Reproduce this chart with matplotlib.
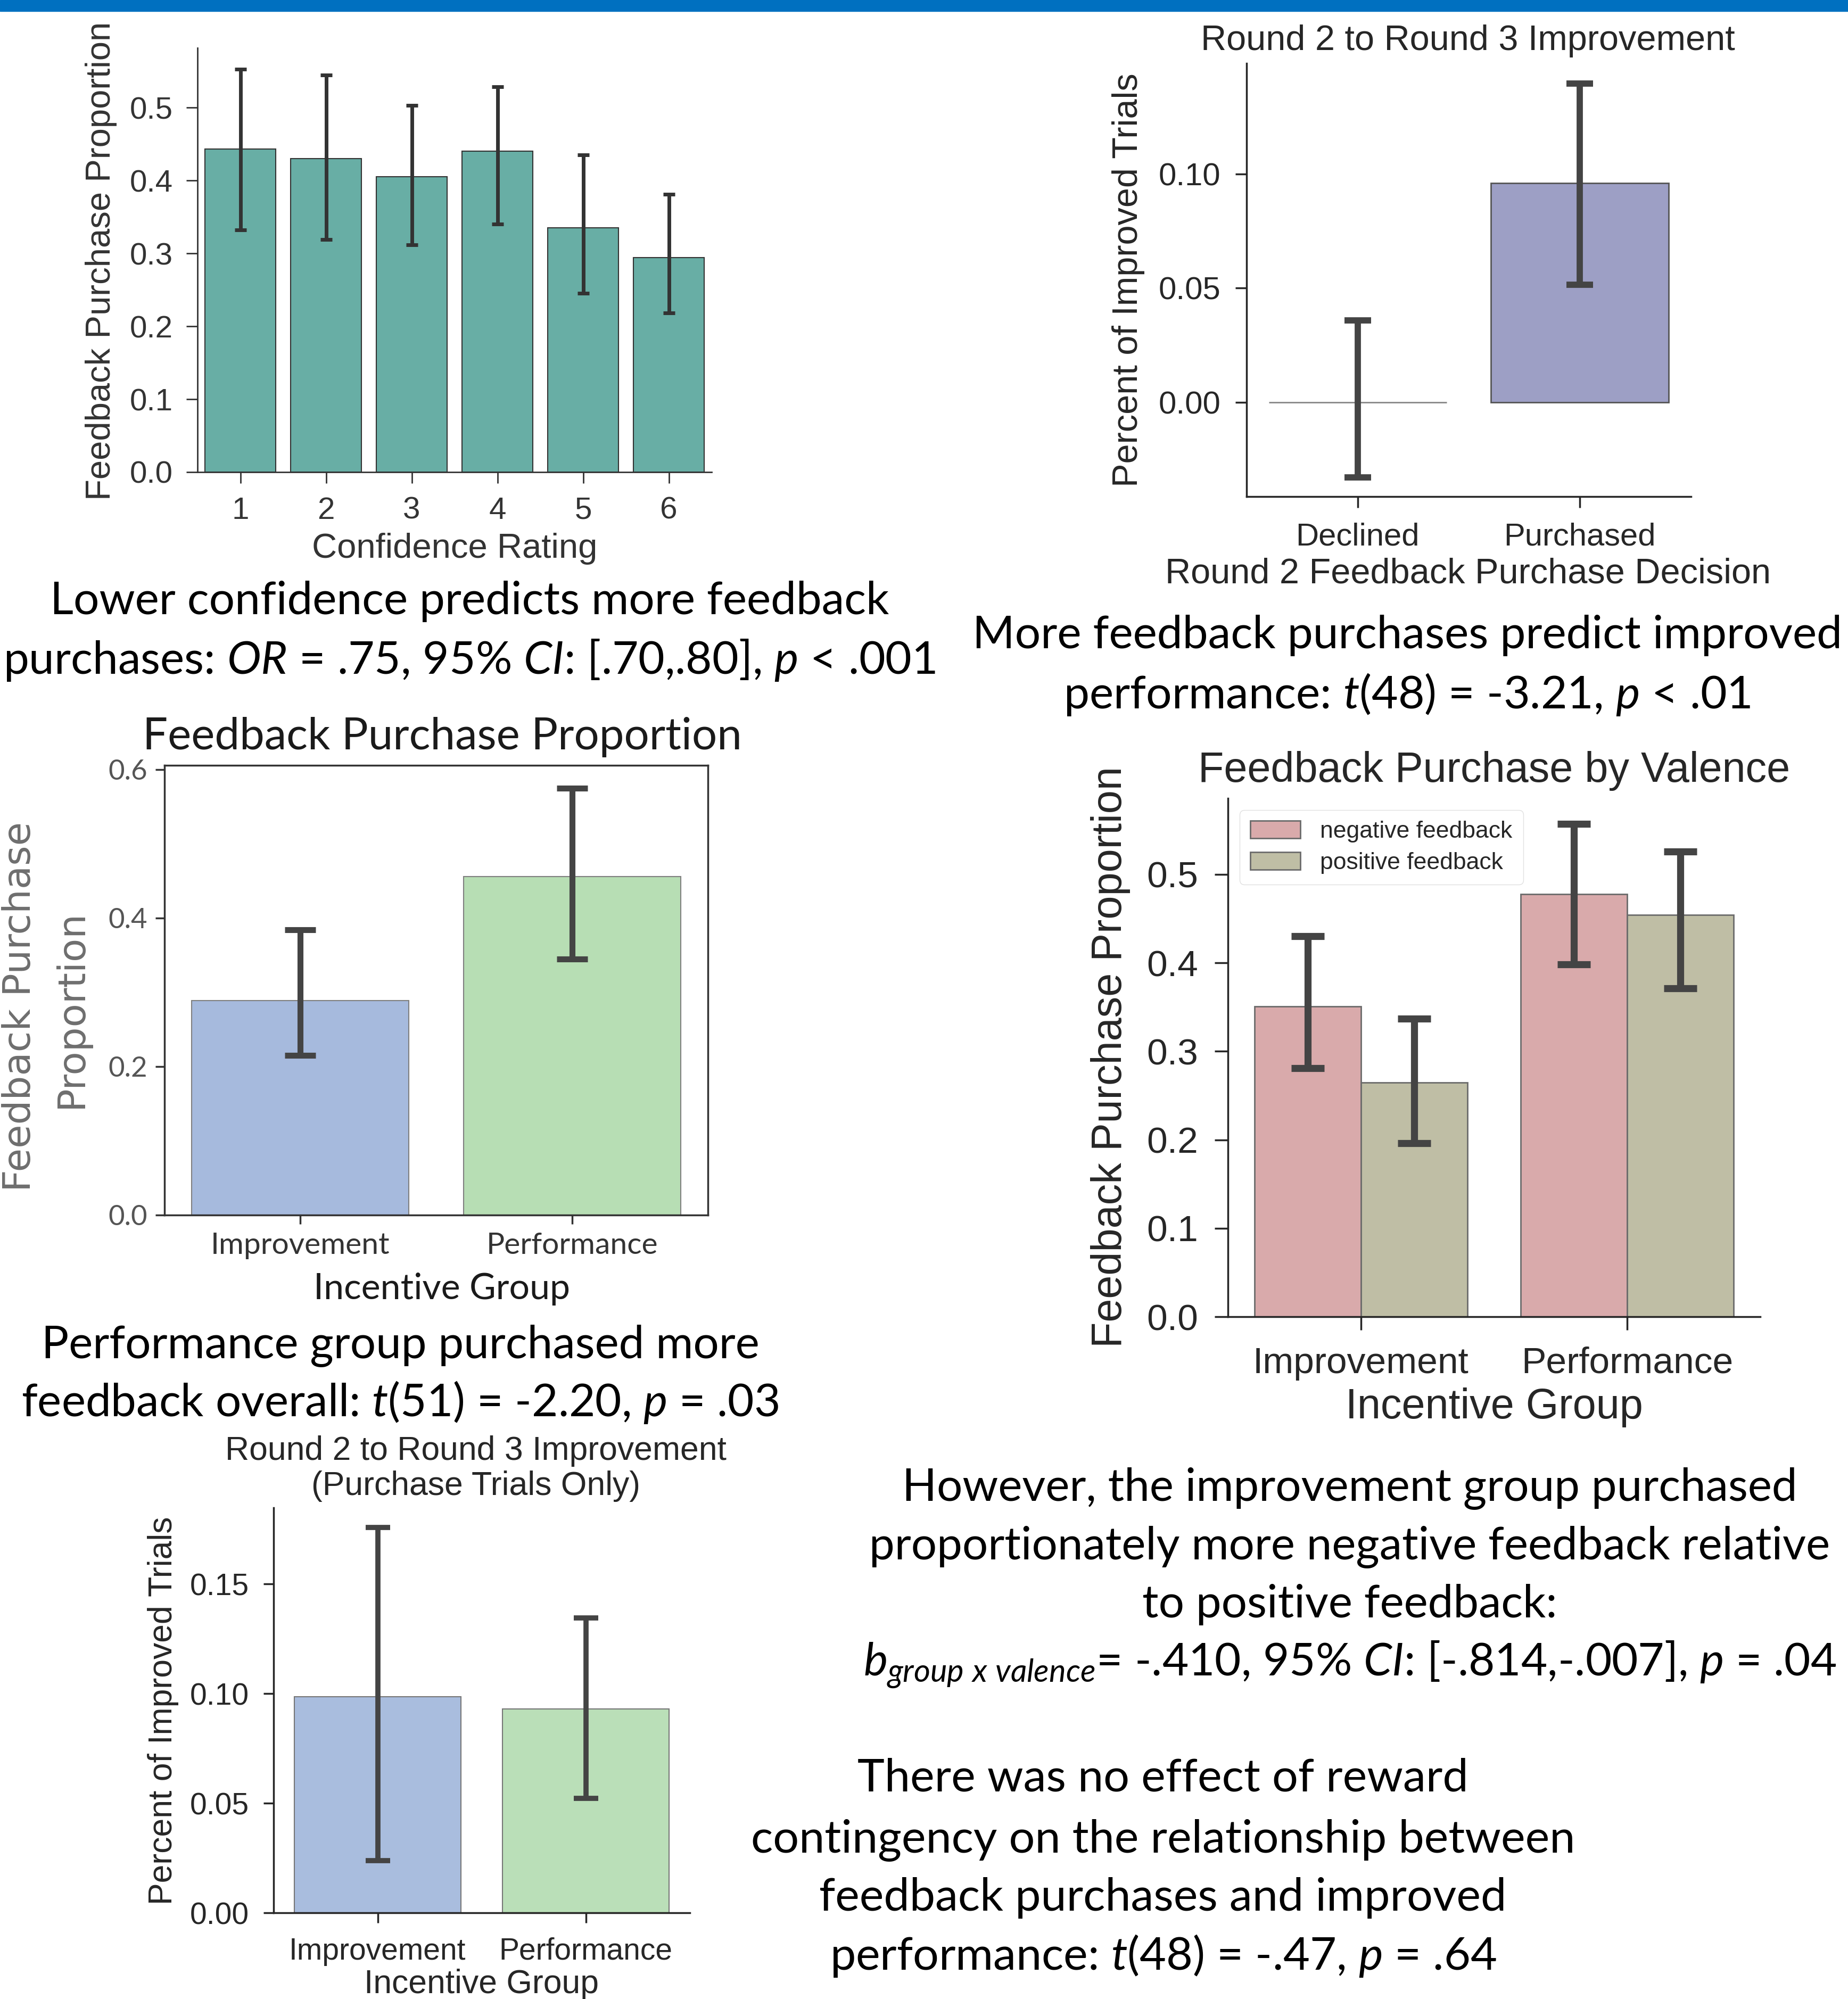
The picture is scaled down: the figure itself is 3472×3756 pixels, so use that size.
import numpy as np
import matplotlib
matplotlib.use("Agg")
import matplotlib.pyplot as plt
import matplotlib.transforms as mtransforms
from matplotlib.ticker import FormatStrFormatter

W, H = 3472, 3756
DPI = 100

ARIAL = ['Liberation Sans', 'DejaVu Sans']
CALIBRI = ['Lato', 'DejaVu Sans']
plt.rcParams['font.family'] = ARIAL
plt.rcParams['mathtext.fontset'] = 'custom'
plt.rcParams['mathtext.rm'] = 'Lato'
plt.rcParams['mathtext.it'] = 'Lato:italic'
plt.rcParams['mathtext.bf'] = 'Lato:bold'

# --- dados ---
conf_ratings = ['1', '2', '3', '4', '5', '6']
conf_prop = [0.443, 0.430, 0.405, 0.440, 0.335, 0.294]
conf_lo = [0.332, 0.319, 0.312, 0.340, 0.245, 0.218]
conf_hi = [0.553, 0.545, 0.503, 0.529, 0.435, 0.381]

decisions = ['Declined', 'Purchased']
decision_improved = [0.0, 0.0961]
decision_lo = [-0.0327, 0.0515]
decision_hi = [0.0359, 0.1395]

groups = ['Improvement', 'Performance']
group_prop = [0.289, 0.456]
group_lo = [0.215, 0.345]
group_hi = [0.384, 0.575]

valence = ['negative feedback', 'positive feedback']
neg_prop = [0.351, 0.478]
neg_lo = [0.281, 0.398]
neg_hi = [0.430, 0.557]
pos_prop = [0.265, 0.454]
pos_lo = [0.196, 0.371]
pos_hi = [0.337, 0.526]

purch_improved = [0.0987, 0.0929]
purch_lo = [0.0237, 0.0523]
purch_hi = [0.1757, 0.1345]

fig = plt.figure(figsize=(W / DPI, H / DPI), dpi=DPI)
PX = mtransforms.Affine2D().scale(1 / W, -1 / H).translate(0, 1) + fig.transFigure


def add_axes_px(x0, y0, x1, y1):
    return fig.add_axes([x0 / W, 1 - y1 / H, (x1 - x0) / W, (y1 - y0) / H])


def err(ax, x, y, lo, hi, **kw):
    y = np.asarray(y)
    yerr = [y - np.asarray(lo), np.asarray(hi) - y]
    ax.errorbar(x, y, yerr=yerr, fmt='none', **kw)


def style(ax, size, pad, length, color='#262626', width=2.5, despine=True):
    ax.tick_params(labelsize=size, pad=pad, length=length, width=width,
                   color=color, labelcolor=color, direction='out')
    for side in ax.spines:
        ax.spines[side].set_linewidth(width)
        ax.spines[side].set_color(color)
    if despine:
        ax.spines['top'].set_visible(False)
        ax.spines['right'].set_visible(False)


def labels(ax, xl, xpos, yl, ypos, size, color='#262626', family=ARIAL):
    ax.set_xlabel(xl, fontsize=size, color=color, family=family, va='center')
    ax.xaxis.set_label_coords(*xpos, transform=PX)
    ax.set_ylabel(yl, fontsize=size, color=color, family=family, va='center')
    ax.yaxis.set_label_coords(*ypos, transform=PX)


def caption(lines, cx, ys, width_px, size=66):
    texts = [fig.text(cx, y, s, transform=PX, ha='center', va='baseline',
                      fontsize=size, family=CALIBRI, color='black')
             for s, y in zip(lines, ys)]
    r = fig.canvas.get_renderer()
    widest = max(t.get_window_extent(r).width for t in texts)
    for t in texts:
        t.set_fontsize(size * width_px / widest)


# faixa azul no topo
fig.patches.append(plt.Rectangle((0, 1 - 21 / H), 1, 21 / H, transform=fig.transFigure,
                                 color='#0070c0', zorder=0))

# --- painel 1: confiança ---
ax1 = add_axes_px(371, 90, 1337, 887)
x = np.arange(len(conf_ratings))
ax1.bar(x, conf_prop, width=0.82, color='#68aea5', edgecolor='#333333', linewidth=1.5)
err(ax1, x, conf_prop, conf_lo, conf_hi, ecolor='#333333', elinewidth=5, capsize=8, capthick=5)
ax1.set_xlim(-0.5, 5.5)
ax1.set_ylim(0, 0.582)
ax1.set_xticks(x, conf_ratings)
ax1.set_yticks(np.arange(0, 0.51, 0.1))
ax1.yaxis.set_major_formatter(FormatStrFormatter('%.1f'))
style(ax1, 42, 18, 15, color='#333333', width=2)
labels(ax1, 'Confidence Rating', (854, 1031), 'Feedback Purchase Proportion', (190, 490), 47,
       color='#333333')

# --- painel 2: decisão de compra ---
ax2 = add_axes_px(2342, 119, 3177, 933)
x = np.arange(len(decisions))
ax2.bar(x, decision_improved, width=0.8, color='#9d9fc5', edgecolor=['#888888', '#555555'],
        linewidth=2)
err(ax2, x, decision_improved, decision_lo, decision_hi, ecolor='#444444', elinewidth=8.5,
    capsize=18, capthick=8.5)
ax2.set_xlim(-0.5, 1.5)
ax2.set_ylim(-0.0412, 0.1484)
ax2.set_xticks(x, decisions)
ax2.set_yticks([0.0, 0.05, 0.10])
ax2.yaxis.set_major_formatter(FormatStrFormatter('%.2f'))
style(ax2, 43, 20, 15)
labels(ax2, 'Round 2 Feedback Purchase Decision', (2758, 1078),
       'Percent of Improved Trials', (2120, 526), 48)
fig.text(2758, 77, 'Round 2 to Round 3 Improvement', transform=PX, ha='center', va='center',
         fontsize=48, color='#262626')

# --- painel 3: grupo de incentivo ---
ax3 = add_axes_px(309, 1438, 1330, 2283)
x = np.arange(len(groups))
ax3.bar(x, group_prop, width=0.8, color=['#a6badd', '#b7deb4'], edgecolor='#808080', linewidth=1.5)
err(ax3, x, group_prop, group_lo, group_hi, ecolor='#444444', elinewidth=8, capsize=21, capthick=8)
ax3.set_xlim(-0.5, 1.5)
ax3.set_ylim(0, 0.6055)
ax3.set_xticks(x, groups)
ax3.set_yticks([0.0, 0.2, 0.4, 0.6])
ax3.yaxis.set_major_formatter(FormatStrFormatter('%.1f'))
style(ax3, 41, 11, 12, color='#333333', width=2.5, despine=False)
for lab in ax3.get_xticklabels() + ax3.get_yticklabels():
    lab.set_family(CALIBRI)
for lab in ax3.get_yticklabels():
    lab.set_color('#555555')
    lab.set_fontsize(38)
ax3.set_xlabel('Incentive Group', fontsize=49, family=CALIBRI, color='#1a1a1a', va='center')
ax3.xaxis.set_label_coords(830, 2422, transform=PX)
fig.text(38, 1891, 'Feedback Purchase', transform=PX, rotation=90, ha='center', va='center',
         fontsize=52, family=['DejaVu Sans'], color='#6e6e6e')
fig.text(134, 1895, 'Proportion', transform=PX, rotation=90, ha='center', va='center',
         fontsize=52, family=['DejaVu Sans'], color='#6e6e6e')
t3 = fig.text(831, 1385, 'Feedback Purchase Proportion', transform=PX, ha='center', va='center',
              fontsize=60, family=CALIBRI, color='#1a1a1a')

# --- painel 4: valência ---
ax4 = add_axes_px(2307, 1500, 3307, 2474)
x = np.arange(len(groups))
ax4.bar(x - 0.2, neg_prop, width=0.4, color='#d9aaab', edgecolor='#6b6b6b', linewidth=2,
        label=valence[0])
ax4.bar(x + 0.2, pos_prop, width=0.4, color='#bfbea5', edgecolor='#6b6b6b', linewidth=2,
        label=valence[1])
err(ax4, x - 0.2, neg_prop, neg_lo, neg_hi, ecolor='#444444', elinewidth=9.5, capsize=22,
    capthick=9.5)
err(ax4, x + 0.2, pos_prop, pos_lo, pos_hi, ecolor='#444444', elinewidth=9.5, capsize=22,
    capthick=9.5)
ax4.set_xlim(-0.5, 1.5)
ax4.set_ylim(0, 0.586)
ax4.set_xticks(x, groups)
ax4.set_yticks(np.arange(0, 0.51, 0.1))
ax4.yaxis.set_major_formatter(FormatStrFormatter('%.1f'))
style(ax4, 50, 22, 18)
labels(ax4, 'Incentive Group', (2807, 2645), 'Feedback Purchase Proportion', (2086, 1986), 57)
fig.text(2807, 1448, 'Feedback Purchase by Valence', transform=PX, ha='center', va='center',
         fontsize=57, color='#262626')
leg = ax4.legend(loc='upper left', prop={'size': 32}, frameon=True, fancybox=True,
                 edgecolor='#dddddd', framealpha=0.9, handlelength=2.1, handleheight=0.75,
                 handletextpad=0.85, labelspacing=0.4, borderpad=0.45, borderaxespad=0.5)
for t in leg.get_texts():
    t.set_color('#262626')

# --- painel 5: melhoria só em compras ---
ax5 = add_axes_px(514, 2833, 1296, 3594)
x = np.arange(len(groups))
ax5.bar(x, purch_improved, width=0.8, color=['#a9bdde', '#badfb8'], edgecolor='#777777',
        linewidth=1.5)
err(ax5, x, purch_improved, purch_lo, purch_hi, ecolor='#444444', elinewidth=7, capsize=16.5,
    capthick=7)
ax5.set_xlim(-0.5, 1.5)
ax5.set_ylim(0, 0.1848)
ax5.set_xticks(x, groups)
ax5.set_yticks([0.0, 0.05, 0.10, 0.15])
ax5.yaxis.set_major_formatter(FormatStrFormatter('%.2f'))
style(ax5, 41, 19, 14)
labels(ax5, 'Incentive Group', (905, 3728), 'Percent of Improved Trials', (307, 3214), 45)
fig.text(894, 2726, 'Round 2 to Round 3 Improvement', transform=PX, ha='center', va='center',
         fontsize=45, color='#262626')
fig.text(894, 2793, '(Purchase Trials Only)', transform=PX, ha='center', va='center',
         fontsize=45, color='#262626')

# --- legendas de texto ---
caption(['Lower confidence predicts more feedback',
         'purchases: $OR$ = .75, 95% $CI$: [.70,.80], $p$ < .001'],
        882, [1154, 1266], 1750)
caption(['More feedback purchases predict improved',
         'performance: $t$(48) = -3.21, $p$ < .01'],
        2644, [1218, 1331], 1636)
caption(['Performance group purchased more',
         'feedback overall: $t$(51) = -2.20, $p$ = .03'],
        752, [2551, 2661], 1423)
caption(['However, the improvement group purchased',
         'proportionately more negative feedback relative',
         'to positive feedback:',
         r'$b_{group\ x\ valence}$= -.410, 95% $CI$: [-.814,-.007], $p$ = .04'],
        2536, [2819, 2929, 3039, 3150], 1828)
caption(['There was no effect of reward',
         'contingency on the relationship between',
         'feedback purchases and improved',
         'performance: $t$(48) = -.47, $p$ = .64'],
        2185, [3365, 3480, 3590, 3701], 1548)

fig.savefig('out.png', dpi=DPI)
